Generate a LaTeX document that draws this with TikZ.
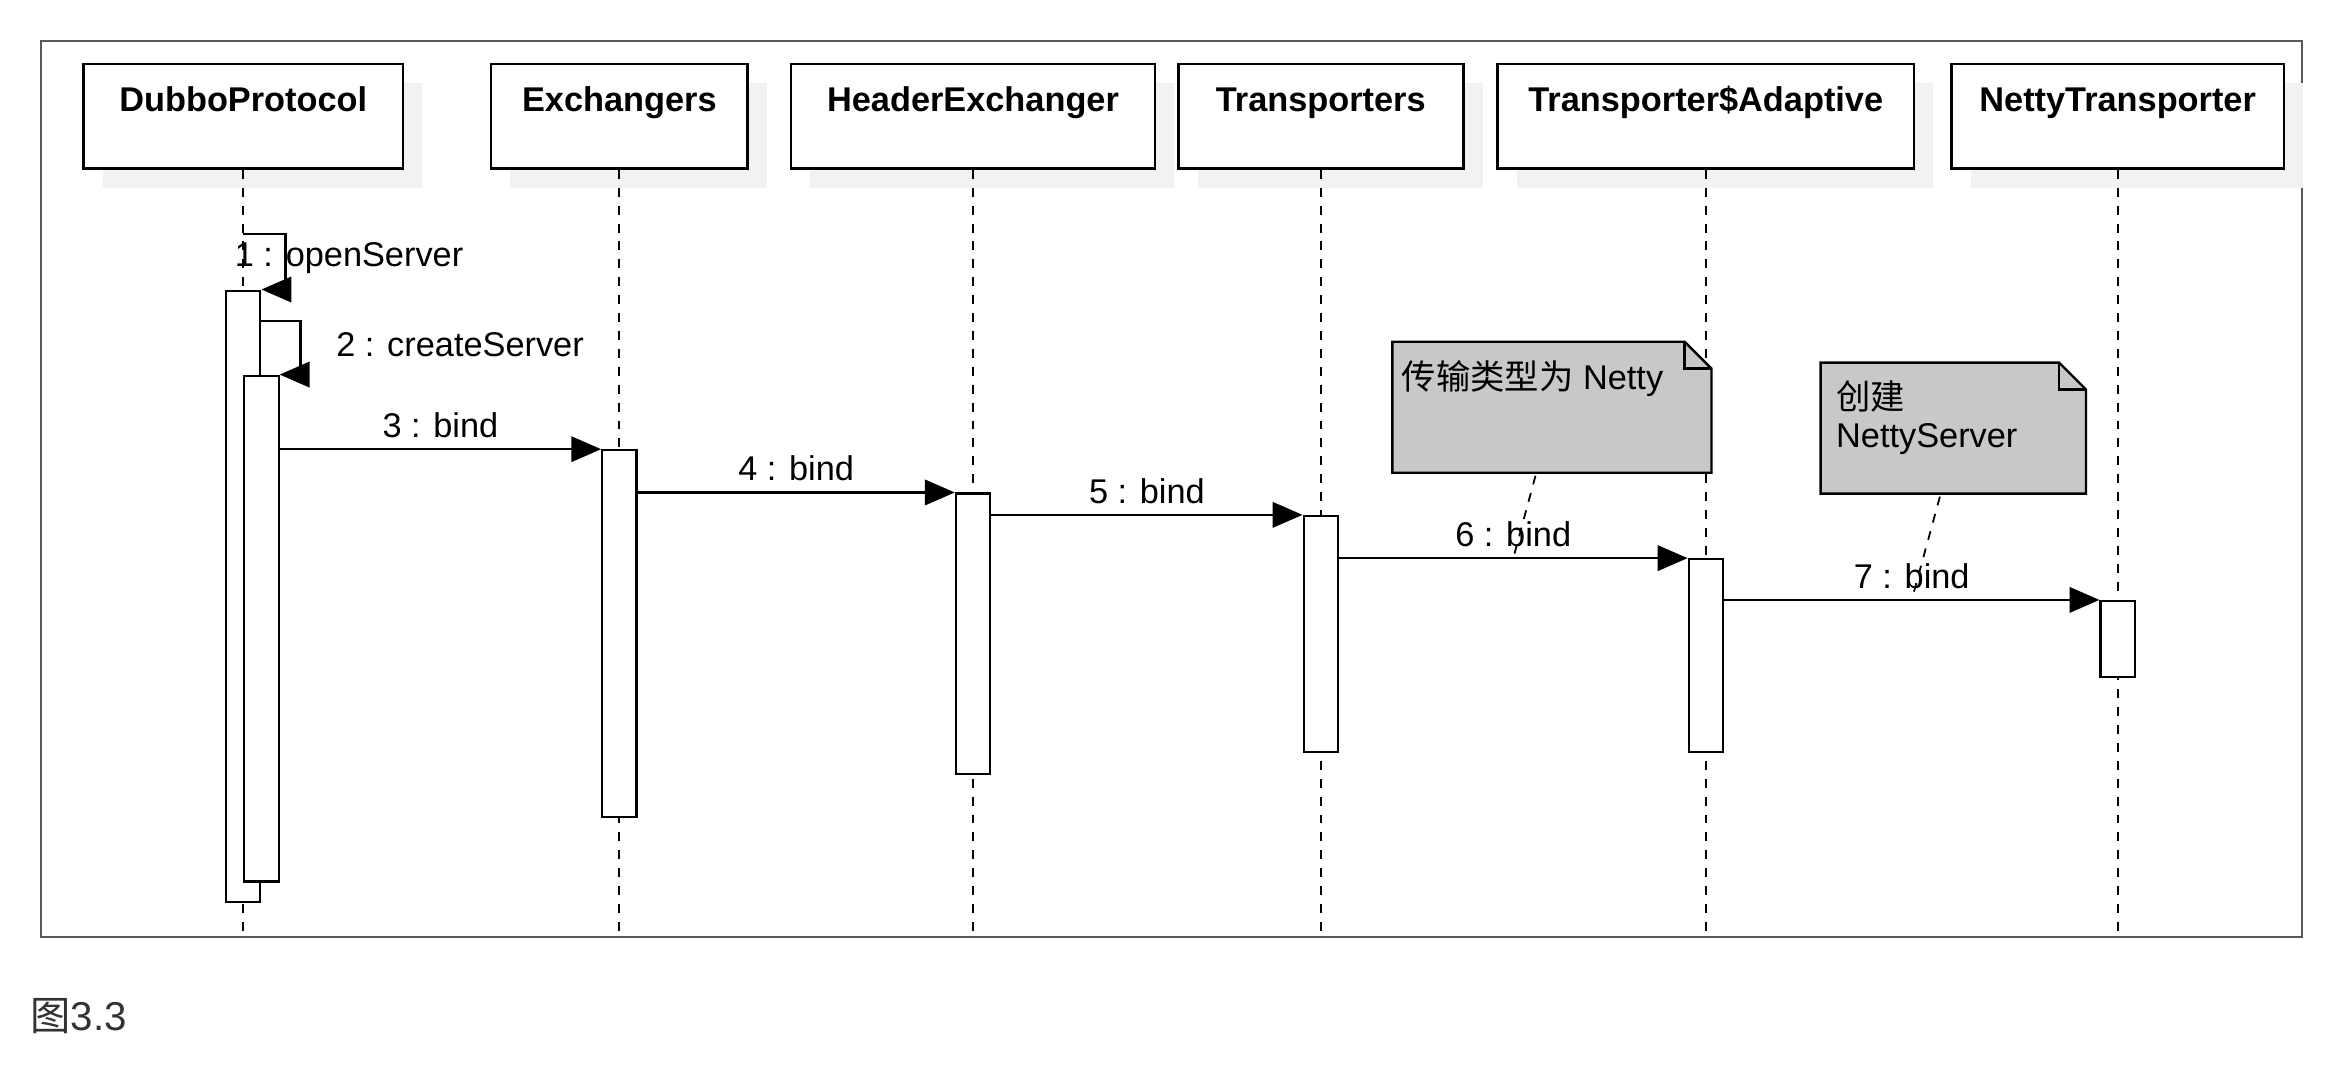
\documentclass[tikz,border=0pt]{standalone}
\usepackage{fontspec}
\setmainfont{Liberation Sans}
\newfontfamily\cjk{Noto Sans CJK SC}
\usetikzlibrary{arrows.meta, shadows}
\definecolor{notegray}{RGB}{200,200,200}
\definecolor{shadegray}{RGB}{242,242,242}

\begin{document}
\begin{tikzpicture}[x=0.5pt,y=-0.5pt,>={Triangle[length=10pt,width=8.5pt]},
  head/.style={draw,line width=0.9pt,fill=white,anchor=north,minimum height=35pt,inner ysep=0pt,
    text height=16pt,text depth=19pt,font=\fontsize{11.5}{13.5}\selectfont\bfseries,
    drop shadow={shadow xshift=6.5pt,shadow yshift=-6.5pt,fill=shadegray,opacity=1}},
  act/.style={draw,line width=0.7pt,fill=white,anchor=north,minimum width=11.5pt,inner sep=0pt},
  msg/.style={->,line width=0.8pt},
  msglabel/.style={font=\fontsize{11.5}{13.5}\selectfont},
  lifeline/.style={dash pattern=on 3pt off 3pt,line width=0.6pt},
  notebox/.style={anchor=north west,minimum height=43.5pt,inner sep=0pt},
  notefill/.style={draw,line width=0.8pt,fill=notegray},
  notetext/.style={anchor=north west,inner sep=0pt,align=left,font=\fontsize{11.5}{12.5}\selectfont},
  noteline/.style={dash pattern=on 3pt off 3pt,line width=0.6pt}]

  \useasboundingbox (0,0) rectangle (1568,721);

  \node[draw=black!65,line width=0.7pt,anchor=north west,inner sep=0pt,
    minimum width=757.5pt,minimum height=300pt] (frm) at (27,27) {};

  % lifeline heads
  \node[head,minimum width=107pt] (dp) at (163,42) {DubboProtocol};
  \node[head,minimum width=86pt] (ex) at (415,42) {Exchangers};
  \node[head,minimum width=122pt] (he) at (652,42) {HeaderExchanger};
  \node[head,minimum width=95.5pt] (tr) at (885,42) {Transporters};
  \node[head,minimum width=139.5pt] (ta) at (1143,42) {Transporter\$Adaptive};
  \node[head,minimum width=111.5pt] (nt) at (1419,42) {NettyTransporter};

  \foreach \n in {dp,ex,he,tr,ta,nt}
    \draw[lifeline] (\n.south) -- (\n.south |- frm.south);

  % activations
  \node[act,minimum height=205pt] (dpA) at (dp.south |- 0,194) {};
  \node[act,anchor=north west,minimum height=169.5pt] (dpB) at (dpA.north |- 0,251) {};
  \node[act,minimum height=123pt] (exA) at (ex.south |- 0,301) {};
  \node[act,minimum height=94pt] (heA) at (he.south |- 0,330) {};
  \node[act,minimum height=79pt] (trA) at (tr.south |- 0,345) {};
  \node[act,minimum height=64.5pt] (taA) at (ta.south |- 0,374) {};
  \node[act,minimum height=25.5pt] (ntA) at (nt.south |- 0,402) {};

  % notes
  \node[notebox,minimum width=106.5pt] (n1) at (933,229) {};
  \node[notebox,minimum width=88.5pt] (n2) at (1220,243) {};
  \foreach \n in {n1,n2} {
    \draw[notefill] (\n.north west) -- ([xshift=-9pt]\n.north east) -- ([yshift=-9pt]\n.north east)
      -- (\n.south east) -- (\n.south west) -- cycle;
    \draw[line width=0.8pt] ([xshift=-9pt]\n.north east) |- ([yshift=-9pt]\n.north east);
  }
  \node[notetext] (t1) at ([shift={(3pt,-6pt)}]n1.north west) {{\cjk 传输类型为} Netty};
  \node[notetext] (t2) at ([shift={(5pt,-6pt)}]n2.north west) {{\cjk 创建}\\NettyServer};

  % messages
  \draw[msg] (dp.south |- 0,157) -| ([xshift=8pt]dpA.north east) -- (dpA.north east);
  \node[msglabel,anchor=west,inner sep=0pt] (l1) at (157,173) {1 : openServer};
  \draw[msg] (dpA.east |- 0,215) -| ([xshift=7pt]dpB.north east) -- (dpB.north east);
  \node[msglabel,anchor=west,inner sep=0pt] (l2) at (225,231) {2 : createServer};
  \draw[msg] (dpB.east |- exA.north) -- node[msglabel,above] (l3) {3 : bind} (exA.north west);
  \draw[msg] (exA.east |- heA.north) -- node[msglabel,above] (l4) {4 : bind} (heA.north west);
  \draw[msg] (heA.east |- trA.north) -- node[msglabel,above] (l5) {5 : bind} (trA.north west);
  \draw[msg] (trA.east |- taA.north) -- node[msglabel,above] (l6) {6 : bind} (taA.north west);
  \draw[msg] (taA.east |- ntA.north) -- node[msglabel,above] (l7) {7 : bind} (ntA.north west);

  \draw[noteline] ([xshift=-5.5pt,yshift=-1pt]n1.south) -- (l6.south);
  \draw[noteline] ([xshift=-4.5pt,yshift=-1pt]n2.south) -- (l7.south);

  \node[anchor=west,inner sep=0pt,text=black!80,font=\fontsize{13.5}{16}\selectfont] (cap)
    at (20,681) {{\cjk 图}3.3};
\end{tikzpicture}
\end{document}
